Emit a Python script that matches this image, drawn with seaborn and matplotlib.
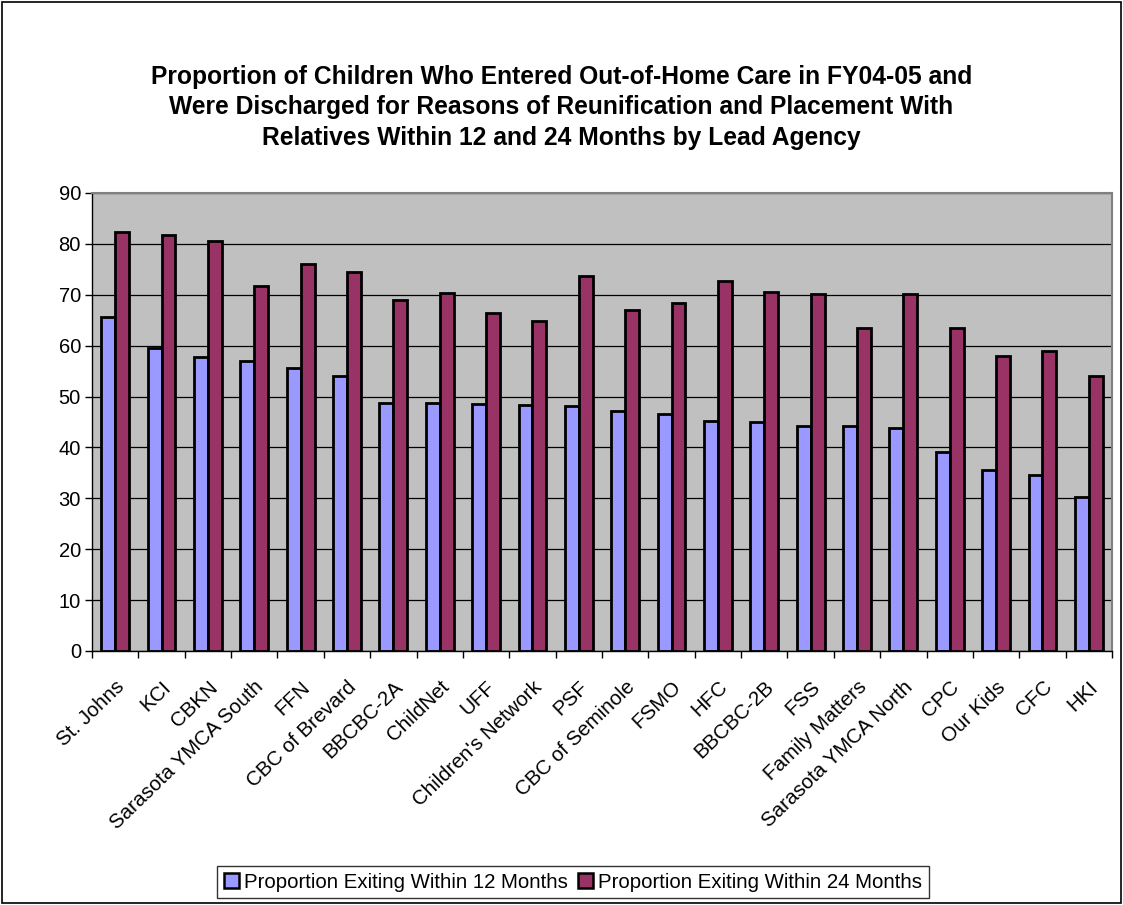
import numpy as np
import pandas as pd
import matplotlib
matplotlib.use("Agg")
import matplotlib.pyplot as plt
import seaborn as sns
from matplotlib.patches import Rectangle

agencies = ["St. Johns", "KCI", "CBKN", "Sarasota YMCA South", "FFN", "CBC of Brevard",
            "BBCBC-2A", "ChildNet", "UFF", "Children's Network", "PSF", "CBC of Seminole",
            "FSMO", "HFC", "BBCBC-2B", "FSS", "Family Matters", "Sarasota YMCA North",
            "CPC", "Our Kids", "CFC", "HKI"]
within_12 = [65.7, 59.6, 57.8, 57.0, 55.6, 54.0, 48.8, 48.7, 48.5, 48.3, 48.1, 47.1,
             46.6, 45.2, 45.0, 44.3, 44.2, 43.8, 39.1, 35.6, 34.6, 30.3]
within_24 = [82.3, 81.8, 80.6, 71.8, 76.0, 74.5, 68.9, 70.4, 66.5, 64.9, 73.6, 67.1,
             68.4, 72.8, 70.6, 70.2, 63.5, 70.2, 63.5, 58.0, 59.0, 54.0]
series_names = ["Proportion Exiting Within 12 Months", "Proportion Exiting Within 24 Months"]
colors = ["#9999FF", "#993366"]
title = ("Proportion of Children Who Entered Out-of-Home Care in FY04-05 and\n"
         "Were Discharged for Reasons of Reunification and Placement With\n"
         "Relatives Within 12 and 24 Months by Lead Agency")

df = pd.DataFrame({
    "agency": agencies * 2,
    "value": within_12 + within_24,
    "series": [series_names[0]] * len(agencies) + [series_names[1]] * len(agencies),
})

sns.set_theme(style="white")
plt.rcParams['font.family'] = ['Liberation Sans', 'DejaVu Sans']
plt.rcParams['text.color'] = 'black'
plt.rcParams['xtick.color'] = 'black'
plt.rcParams['ytick.color'] = 'black'
plt.rcParams['axes.labelcolor'] = 'black'

fig = plt.figure(figsize=(11.23, 9.05), dpi=100)
ax = fig.add_axes([92 / 1123, 1 - 651 / 905, (1112 - 92) / 1123, (651 - 193) / 905])

sns.barplot(data=df, x="agency", y="value", hue="series", order=agencies,
            hue_order=series_names, palette=colors, width=0.6, ax=ax,
            edgecolor="black", linewidth=2.0, saturation=1, legend=False)

ax.set_facecolor("#C0C0C0")
ax.set_ylim(0, 90)
ax.set_xlim(-0.5, len(agencies) - 0.5)
ax.set_yticks(np.arange(0, 91, 10))
ax.yaxis.grid(True, color="black", linewidth=0.9)
ax.set_axisbelow(True)
ax.set_xlabel("")
ax.set_ylabel("")

ax.set_xticks(np.arange(len(agencies)))
ax.set_xticklabels(agencies, rotation=44, ha="right", rotation_mode="anchor", fontsize=14.8,
                   color="black")
ax.set_xticks(np.arange(len(agencies) + 1) - 0.5, minor=True)
ax.tick_params(axis="x", which="major", length=0, pad=19)
ax.tick_params(axis="x", which="minor", length=5, width=1, color="black", direction="out", bottom=True)
ax.tick_params(axis="y", length=5, width=1, color="black", labelcolor="black", direction="out",
               left=True, labelsize=14.5, pad=3)

for s in ["top", "right"]:
    ax.spines[s].set_color("#808080")
    ax.spines[s].set_linewidth(1.5)
for s in ["left", "bottom"]:
    ax.spines[s].set_color("black")
    ax.spines[s].set_linewidth(1.0)

fig.suptitle(title, fontsize=17.7, fontweight="bold", y=1 - 65 / 905, va="top",
             linespacing=1.34, color="black")

handles = [Rectangle((0, 0), 1, 1, facecolor=c, edgecolor="black", linewidth=1.8) for c in colors]
leg = fig.legend(handles, series_names, loc="center", bbox_to_anchor=(573 / 1123, 1 - 882 / 905),
                 ncol=2, frameon=True, fancybox=False, fontsize=14.7, handlelength=0.75,
                 handleheight=0.75, handletextpad=0.25, columnspacing=0.5, borderpad=0.3,
                 borderaxespad=0, labelcolor="black")
leg.get_frame().set_edgecolor("black")
leg.get_frame().set_linewidth(1.0)

fig.patches.append(Rectangle((0.002, 0.002), 0.996, 0.996, transform=fig.transFigure,
                             fill=False, edgecolor="black", linewidth=1.2))

fig.savefig("out.png", dpi=100, facecolor="white")
